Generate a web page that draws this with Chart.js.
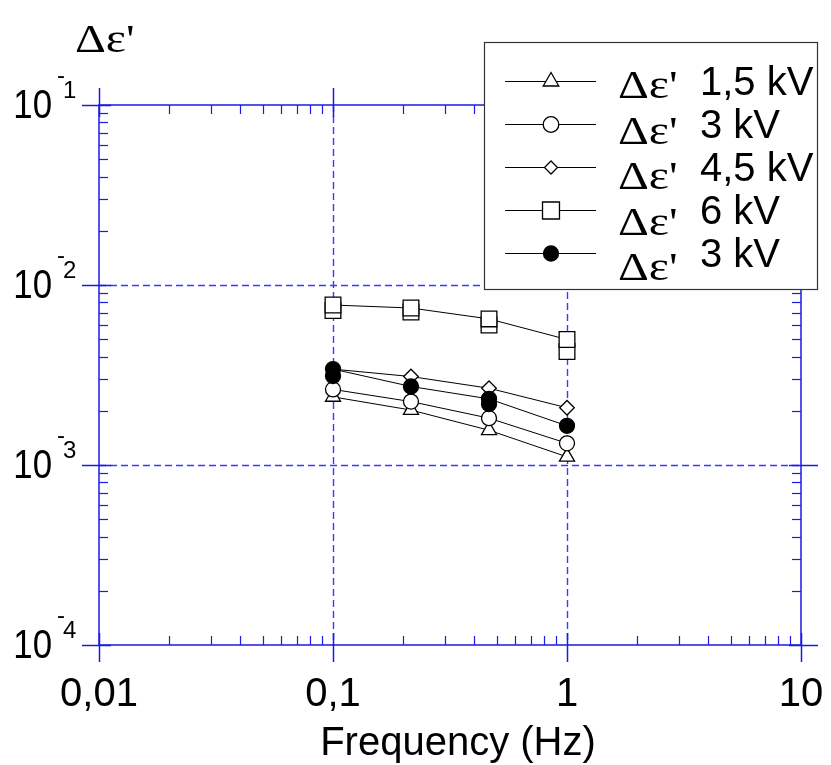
<!DOCTYPE html>
<html>
<head>
<meta charset="utf-8">
<script src="https://cdn.jsdelivr.net/npm/chart.js@4.4.1/dist/chart.umd.min.js"></script>
<style>
  html, body { margin: 0; padding: 0; background: #fff; }
  canvas { display: block; }
</style>
</head>
<body>
<canvas id="chart" width="831" height="765"></canvas>
<script>
// measured points, frequency in Hz
const frequencies = [0.1, 0.2154, 0.4642, 1];
const kv15 = [0.00239, 0.00202, 0.00156, 0.00111];
const kv3 = [0.00263, 0.00225, 0.00182, 0.00132];
const kv45 = [0.00341, 0.00310, 0.00267, 0.00208];
const kv6 = [0.00774, 0.00745, 0.00648, 0.00498];
const kv6Repeat = [0.00722, 0.00708, 0.00600, 0.00427];
const kv3Filled = [0.00341, 0.00273, 0.00233, 0.00165];
const kv3FilledRepeat = [0.00312, null, 0.00218, null];

const seriesLabels = ['1,5 kV', '3 kV', '4,5 kV', '6 kV', '3 kV'];
const xTicks = [0.01, 0.1, 1, 10];
const xTickLabels = ['0,01', '0,1', '1', '10'];
const yTicks = [1e-1, 1e-2, 1e-3, 1e-4];
const yTickExps = ['1', '2', '3', '4'];

const AXIS = '#1a1ae6';
const GRID = '#3a3aff';
const SANS = '"Liberation Sans", Arial, sans-serif';

function makeSet(label, ys, pointStyle, radius, filled, order, showLine) {
    return {
        label: label,
        order: order,
        data: frequencies.map((f, i) => ({ x: f, y: ys[i] })).filter(p => p.y !== null),
        showLine: showLine,
        borderColor: '#000',
        borderWidth: 1,
        pointStyle: pointStyle,
        pointRadius: radius,
        pointHoverRadius: radius,
        pointBorderWidth: 1.3,
        pointBackgroundColor: filled ? '#000' : '#fff',
        pointBorderColor: '#000',
        tension: 0,
        fill: false,
        clip: false
    };
}

const datasets = [
    makeSet(seriesLabels[0], kv15, 'triangle', 8.7, false, 6, true),
    makeSet(seriesLabels[1], kv3, 'circle', 7.5, false, 5, true),
    makeSet(seriesLabels[2], kv45, 'rectRot', 7.3, false, 4, true),
    makeSet(seriesLabels[3], kv6, 'rect', 11.1, false, 2, true),
    makeSet(seriesLabels[4], kv3Filled, 'circle', 7.5, true, 1, true),
    makeSet('', kv6Repeat, 'rect', 11.1, false, 3, false),
    makeSet('', kv3FilledRepeat, 'circle', 7.5, true, 1.5, false)
];

// legend marker look (size in legend box differs a bit)
const legendRadius = [9, 7.8, 6.5, 12, 7.5];

function line(ctx, x1, y1, x2, y2) {
    ctx.beginPath();
    ctx.moveTo(x1, y1);
    ctx.lineTo(x2, y2);
    ctx.stroke();
}

function deltaEps(ctx, x, y, size) {
    ctx.save();
    ctx.translate(x, y);
    ctx.scale(1.2, 1);
    ctx.font = size + 'px "Liberation Serif", "Times New Roman", serif';
    ctx.textAlign = 'left';
    ctx.textBaseline = 'alphabetic';
    ctx.fillStyle = '#000';
    ctx.fillText("\u0394\u03b5'", 0, 0);
    ctx.restore();
}

const axesPlugin = {
    id: 'axesPlugin',
    beforeDatasetsDraw(chart) {
        const { ctx, chartArea: a, scales: { x, y } } = chart;
        ctx.save();

        // dashed grid at decades
        ctx.strokeStyle = GRID;
        ctx.lineWidth = 1.4;
        ctx.setLineDash([7, 4]);
        xTicks.slice(1, -1).forEach(v => {
            const px = Math.round(x.getPixelForValue(v)) + 0.5;
            line(ctx, px, a.top, px, a.bottom);
        });
        yTicks.slice(1, -1).forEach(v => {
            const py = Math.round(y.getPixelForValue(v)) + 0.5;
            line(ctx, a.left, py, a.right, py);
        });
        ctx.setLineDash([]);

        // frame
        ctx.strokeStyle = AXIS;
        ctx.lineWidth = 1.5;
        ctx.strokeRect(a.left, a.top, a.right - a.left, a.bottom - a.top);

        // major ticks cross the frame
        xTicks.forEach(v => {
            const px = Math.round(x.getPixelForValue(v)) + 0.5;
            line(ctx, px, a.bottom - 12, px, a.bottom + 17);
            line(ctx, px, a.top - 17, px, a.top + 12);
        });
        yTicks.forEach(v => {
            const py = Math.round(y.getPixelForValue(v)) + 0.5;
            line(ctx, a.left - 17, py, a.left + 12, py);
            line(ctx, a.right - 12, py, a.right + 17, py);
        });

        // minor ticks inward
        ctx.lineWidth = 1.2;
        xTicks.slice(0, -1).forEach(d => {
            for (let k = 2; k <= 9; k++) {
                const px = Math.round(x.getPixelForValue(d * k)) + 0.5;
                line(ctx, px, a.bottom, px, a.bottom - 9);
                line(ctx, px, a.top, px, a.top + 9);
            }
        });
        yTicks.slice(1).forEach(d => {
            for (let k = 2; k <= 9; k++) {
                const py = Math.round(y.getPixelForValue(d * k)) + 0.5;
                line(ctx, a.left, py, a.left + 9, py);
                line(ctx, a.right, py, a.right - 9, py);
            }
        });

        // tick labels
        ctx.fillStyle = '#000';
        ctx.textBaseline = 'alphabetic';
        ctx.font = '40px ' + SANS;
        ctx.textAlign = 'center';
        xTicks.forEach((v, i) => {
            ctx.fillText(xTickLabels[i], x.getPixelForValue(v), a.bottom + 61);
        });
        yTicks.forEach((v, i) => {
            const py = y.getPixelForValue(v);
            ctx.save();
            ctx.translate(52, py + 12.5);
            ctx.scale(0.87, 1);
            ctx.font = '40px ' + SANS;
            ctx.textAlign = 'right';
            ctx.fillText('10', 0, 0);
            ctx.restore();
            ctx.textAlign = 'left';
            ctx.font = '24px ' + SANS;
            ctx.fillText('-', 57, py - 22);
            ctx.fillText(yTickExps[i], 63, py - 7);
        });

        // axis titles
        ctx.font = '40px ' + SANS;
        ctx.textAlign = 'center';
        ctx.fillText('Frequency (Hz)', 458, 755);
        ctx.restore();
        deltaEps(ctx, 75, 52, 40);
    },
    afterDraw(chart) {
        const ctx = chart.ctx;
        ctx.save();
        // legend box sits over the top-right of the plot
        ctx.fillStyle = '#fff';
        ctx.fillRect(484, 42, 334, 248);
        ctx.strokeStyle = '#333';
        ctx.lineWidth = 1.2;
        ctx.strokeRect(484.5, 42.5, 333, 247);

        seriesLabels.forEach((lab, i) => {
            const ds = chart.data.datasets[i];
            const ry = Math.round(81 + 43 * i) + 0.5;
            ctx.strokeStyle = '#000';
            ctx.lineWidth = 1;
            line(ctx, 505, ry, 596, ry);
            ctx.fillStyle = ds.pointBackgroundColor;
            ctx.strokeStyle = '#000';
            ctx.lineWidth = 1.3;
            Chart.helpers.drawPoint(ctx, {
                pointStyle: ds.pointStyle,
                radius: legendRadius[i],
                rotation: 0,
                borderWidth: 1.3
            }, 551, ry);

            deltaEps(ctx, 618, 98 + 45.6 * i, 40);
            ctx.fillStyle = '#000';
            ctx.font = '40px ' + SANS;
            ctx.textAlign = 'left';
            ctx.textBaseline = 'alphabetic';
            ctx.fillText(lab, 700, 95 + 43 * i);
        });
        ctx.restore();
    }
};

new Chart(document.getElementById('chart'), {
    type: 'line',
    data: { datasets: datasets },
    options: {
        responsive: false,
        devicePixelRatio: 1,
        animation: false,
        layout: { padding: { left: 99, right: 30, top: 105, bottom: 120 } },
        plugins: {
            legend: { display: false },
            tooltip: { enabled: false }
        },
        scales: {
            x: { type: 'logarithmic', min: 0.01, max: 10, display: false },
            y: { type: 'logarithmic', min: 1e-4, max: 1e-1, display: false }
        }
    },
    plugins: [axesPlugin]
});
</script>
</body>
</html>
